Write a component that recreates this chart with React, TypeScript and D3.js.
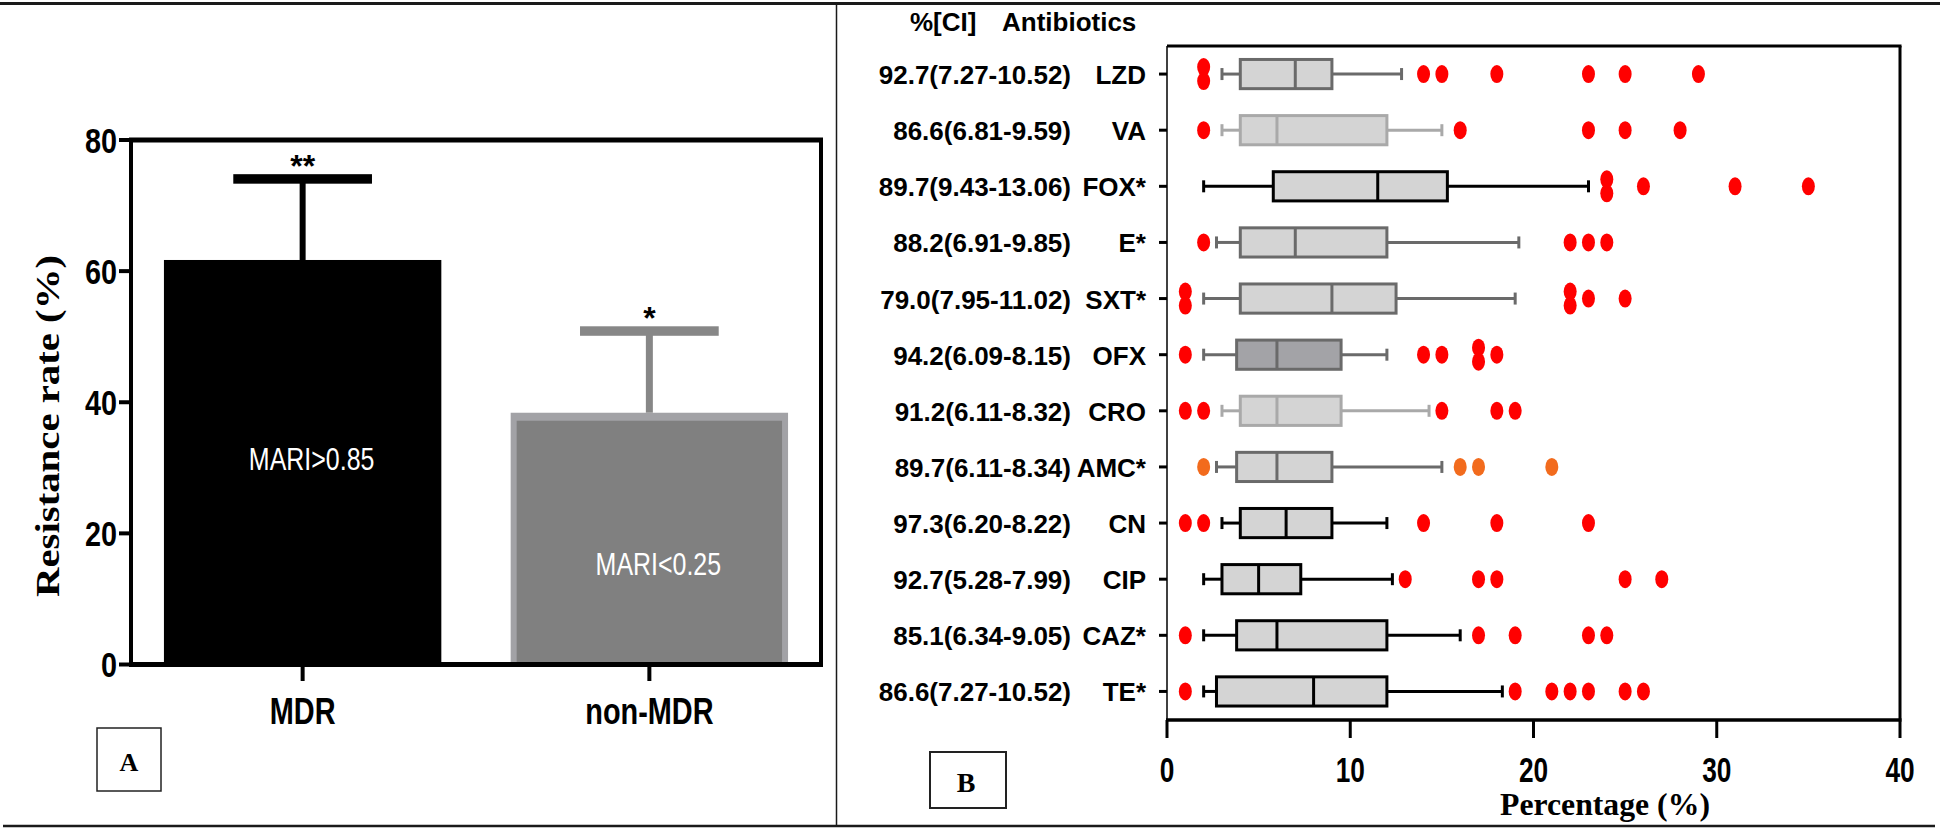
import React from 'react';
import * as d3 from 'd3';

const W = 1940;
const H = 828;

// ---------- Panel A data ----------
const groups = ['MDR', 'non-MDR'];
const resistance = [61.7, 38.4];
const errorUpper = [74.1, 50.9];
const significance = ['**', '*'];
const mariLabels = ['MARI>0.85', 'MARI<0.25'];
const yTicksA = [0, 20, 40, 60, 80];

// ---------- Panel B data ----------
const antibiotics = ['LZD', 'VA', 'FOX*', 'E*', 'SXT*', 'OFX', 'CRO', 'AMC*', 'CN', 'CIP', 'CAZ*', 'TE*'];
const ciLabels = [
  '92.7(7.27-10.52)', '86.6(6.81-9.59)', '89.7(9.43-13.06)', '88.2(6.91-9.85)',
  '79.0(7.95-11.02)', '94.2(6.09-8.15)', '91.2(6.11-8.32)', '89.7(6.11-8.34)',
  '97.3(6.20-8.22)', '92.7(5.28-7.99)', '85.1(6.34-9.05)', '86.6(7.27-10.52)',
];
const whiskerLow = [3, 3, 2, 2.7, 2, 2, 3, 2.7, 3, 2, 2, 2];
const q1 = [4, 4, 5.8, 4, 4, 3.8, 4, 3.8, 4, 3, 3.8, 2.7];
const median = [7, 6, 11.5, 7, 9, 6, 6, 6, 6.5, 5, 6, 8];
const q3 = [9, 12, 15.3, 12, 12.5, 9.5, 9.5, 9, 9, 7.3, 12, 12];
const whiskerHigh = [12.8, 15, 23, 19.2, 19, 12, 14.3, 15, 12, 12.3, 16, 18.3];
const outliers = [
  [2, 2, 14, 15, 18, 23, 25, 29],
  [2, 16, 23, 25, 28],
  [24, 24, 26, 31, 35],
  [2, 22, 23, 24],
  [1, 1, 22, 22, 23, 25],
  [1, 14, 15, 17, 17, 18],
  [1, 2, 15, 18, 19],
  [2, 16, 17, 21],
  [1, 2, 14, 18, 23],
  [13, 17, 18, 25, 27],
  [1, 17, 19, 23, 24],
  [1, 19, 21, 22, 23, 25, 26],
];
const xTicksB = [0, 10, 20, 30, 40];

// ---------- styles ----------
const boxStroke = ['#6a6a6a', '#a9a9a9', '#000', '#6a6a6a', '#6a6a6a', '#6a6a6a', '#a9a9a9', '#6a6a6a', '#000', '#000', '#000', '#000'];
const boxFill = ['#d4d4d4', '#d4d4d4', '#d4d4d4', '#d4d4d4', '#d4d4d4', '#a3a3a7', '#d4d4d4', '#d4d4d4', '#d4d4d4', '#d4d4d4', '#d4d4d4', '#d4d4d4'];
const dotColor = ['#f00', '#f00', '#f00', '#f00', '#f00', '#f00', '#f00', '#f26b1d', '#f00', '#f00', '#f00', '#f00'];
const barFill = ['#000', '#808080'];
const barEdge = [null, '#a2a2a6'];
const errColor = ['#000', '#878787'];

const SANS = 'Liberation Sans, Arial, sans-serif';
const SERIF = 'Liberation Serif, Times New Roman, serif';

function CText({ x, y, k = 0.78, size = 36, anchor = 'middle', weight = 'bold', fill = '#000', children }: any) {
  return (
    <text
      transform={`translate(${x},${y}) scale(${k},1)`}
      textAnchor={anchor}
      fontFamily={SANS}
      fontWeight={weight}
      fontSize={size}
      fill={fill}
    >
      {children}
    </text>
  );
}

export default function App() {
  // Panel A scales
  const xA = d3.scaleBand<string>().domain(groups).range([131, 821]).paddingInner(0.2).paddingOuter(0.095);
  const yA = d3.scaleLinear().domain([0, 80]).range([664.5, 140]);
  const bw = xA.bandwidth();

  // Panel B scales
  const xB = d3.scaleLinear().domain([0, 40]).range([1167, 1900]);
  const yB = d3.scaleBand<string>().domain(antibiotics).range([46, 719.5]);
  const boxH = yB.bandwidth() * 0.52;
  const capH = 12;

  return (
    <svg width={W} height={H} style={{ position: 'absolute', left: 0, top: 0, display: 'block', background: '#fff' }}>
      <rect x={0} y={0} width={W} height={H} fill="#fff" />
      {/* outer frame lines */}
      <line x1={0} x2={W} y1={3.5} y2={3.5} stroke="#1a1a1a" strokeWidth={3} />
      <line x1={3} x2={1935} y1={826} y2={826} stroke="#1a1a1a" strokeWidth={2.5} />
      <line x1={836.5} x2={836.5} y1={3} y2={826} stroke="#1a1a1a" strokeWidth={1.5} />

      {/* ================= Panel A ================= */}
      {groups.map((g, i) => {
        const x0 = xA(g)!;
        const cx = x0 + bw / 2;
        const yTop = yA(resistance[i]);
        const yErr = yA(errorUpper[i]);
        return (
          <g key={g}>
            {/* error bar */}
            <line x1={cx} x2={cx} y1={yTop} y2={yErr} stroke={errColor[i]} strokeWidth={i === 0 ? 6 : 7} />
            <rect x={cx - bw / 4} y={yErr - 4.5} width={bw / 2} height={9.5} fill={errColor[i]} />
            {/* bar */}
            {barEdge[i] ? (
              <g>
                <rect x={x0} y={yTop} width={bw} height={yA(0) - yTop} fill={barEdge[i] as string} />
                <rect x={x0 + 6} y={yTop + 8} width={bw - 12} height={yA(0) - yTop - 8} fill={barFill[i]} />
              </g>
            ) : (
              <rect x={x0} y={yTop} width={bw} height={yA(0) - yTop} fill={barFill[i]} />
            )}
            {/* significance */}
            <text x={cx} y={yErr - 2} textAnchor="middle" fontFamily={SANS} fontWeight="bold" fontSize={32}>
              {significance[i]}
            </text>
            {/* MARI label */}
            <CText x={cx + 9} y={i === 0 ? 470 : 575} size={32} k={0.78} weight="normal" fill="#fff">
              {mariLabels[i]}
            </CText>
            {/* x tick + label */}
            <line x1={cx} x2={cx} y1={664} y2={681} stroke="#000" strokeWidth={4} />
            <CText x={cx} y={724} size={37} k={0.78}>
              {g}
            </CText>
          </g>
        );
      })}
      {/* frame A */}
      <line x1={129} x2={823} y1={140} y2={140} stroke="#000" strokeWidth={5} />
      <line x1={821} x2={821} y1={140} y2={666} stroke="#000" strokeWidth={4} />
      <line x1={131} x2={131} y1={138} y2={667} stroke="#000" strokeWidth={4} />
      <line x1={129} x2={823} y1={664.5} y2={664.5} stroke="#000" strokeWidth={5} />
      {yTicksA.map((t) => (
        <g key={t}>
          <line x1={119} x2={131} y1={yA(t)} y2={yA(t)} stroke="#000" strokeWidth={4} />
          <CText x={117} y={yA(t) + 12.5} size={36} k={0.8} anchor="end">
            {t}
          </CText>
        </g>
      ))}
      <text
        transform="translate(59,426) rotate(-90)"
        textAnchor="middle"
        fontFamily={SERIF}
        fontWeight="bold"
        fontSize={33}
        textLength={342}
        lengthAdjust="spacingAndGlyphs"
      >
        Resistance rate (%)
      </text>
      {/* A box */}
      <rect x={97} y={728} width={64} height={63} fill="#fff" stroke="#222" strokeWidth={1.5} />
      <text x={129} y={771} textAnchor="middle" fontFamily={SERIF} fontWeight="bold" fontSize={26}>
        A
      </text>

      {/* ================= Panel B ================= */}
      <text x={910} y={31} fontFamily={SANS} fontWeight="bold" fontSize={26}>
        %[CI]
      </text>
      <text x={1002} y={31} fontFamily={SANS} fontWeight="bold" fontSize={26}>
        Antibiotics
      </text>

      {antibiotics.map((a, i) => {
        const cy = yB(a)! + yB.bandwidth() / 2;
        const sc = boxStroke[i];
        const counts: Record<number, number> = {};
        outliers[i].forEach((v) => (counts[v] = (counts[v] || 0) + 1));
        const seen: Record<number, number> = {};
        return (
          <g key={a}>
            {/* y tick */}
            <line x1={1159} x2={1167} y1={cy} y2={cy} stroke="#000" strokeWidth={3} />
            <text x={1071} y={cy + 10} textAnchor="end" fontFamily={SANS} fontWeight="bold" fontSize={26}>
              {ciLabels[i]}
            </text>
            <text x={1146} y={cy + 10} textAnchor="end" fontFamily={SANS} fontWeight="bold" fontSize={26}>
              {a}
            </text>
            {/* whiskers */}
            <line x1={xB(whiskerLow[i])} x2={xB(q1[i])} y1={cy} y2={cy} stroke={sc} strokeWidth={3} />
            <line x1={xB(q3[i])} x2={xB(whiskerHigh[i])} y1={cy} y2={cy} stroke={sc} strokeWidth={3} />
            <line x1={xB(whiskerLow[i])} x2={xB(whiskerLow[i])} y1={cy - capH / 2} y2={cy + capH / 2} stroke={sc} strokeWidth={3} />
            <line x1={xB(whiskerHigh[i])} x2={xB(whiskerHigh[i])} y1={cy - capH / 2} y2={cy + capH / 2} stroke={sc} strokeWidth={3} />
            {/* box */}
            <rect
              x={xB(q1[i])}
              y={cy - boxH / 2}
              width={xB(q3[i]) - xB(q1[i])}
              height={boxH}
              fill={boxFill[i]}
              stroke={sc}
              strokeWidth={3}
            />
            <line x1={xB(median[i])} x2={xB(median[i])} y1={cy - boxH / 2} y2={cy + boxH / 2} stroke={sc} strokeWidth={3} />
            {/* outliers */}
            {outliers[i].map((v, j) => {
              const n = counts[v];
              const idx = seen[v] || 0;
              seen[v] = idx + 1;
              const off = (idx - (n - 1) / 2) * 14;
              return <ellipse key={j} cx={xB(v)} cy={cy + off} rx={6.5} ry={9} fill={dotColor[i]} />;
            })}
          </g>
        );
      })}

      {/* frame B */}
      <line x1={1167} x2={1901.5} y1={46} y2={46} stroke="#000" strokeWidth={3} />
      <line x1={1900} x2={1900} y1={46} y2={720} stroke="#000" strokeWidth={3} />
      <line x1={1167} x2={1167} y1={46} y2={720} stroke="#000" strokeWidth={1.5} />
      <line x1={1166} x2={1901.5} y1={720} y2={720} stroke="#000" strokeWidth={3.5} />
      {xTicksB.map((t) => (
        <g key={t}>
          <line x1={xB(t)} x2={xB(t)} y1={720} y2={738} stroke="#000" strokeWidth={3} />
          <CText x={xB(t)} y={782} size={35} k={0.75}>
            {t}
          </CText>
        </g>
      ))}
      <text
        x={1605}
        y={815}
        textAnchor="middle"
        fontFamily={SERIF}
        fontWeight="bold"
        fontSize={31}
        textLength={210}
        lengthAdjust="spacingAndGlyphs"
      >
        Percentage (%)
      </text>
      {/* B box */}
      <rect x={930} y={752} width={76} height={56} fill="#fff" stroke="#222" strokeWidth={2} />
      <text x={966} y={792} textAnchor="middle" fontFamily={SERIF} fontWeight="bold" fontSize={28}>
        B
      </text>
    </svg>
  );
}
